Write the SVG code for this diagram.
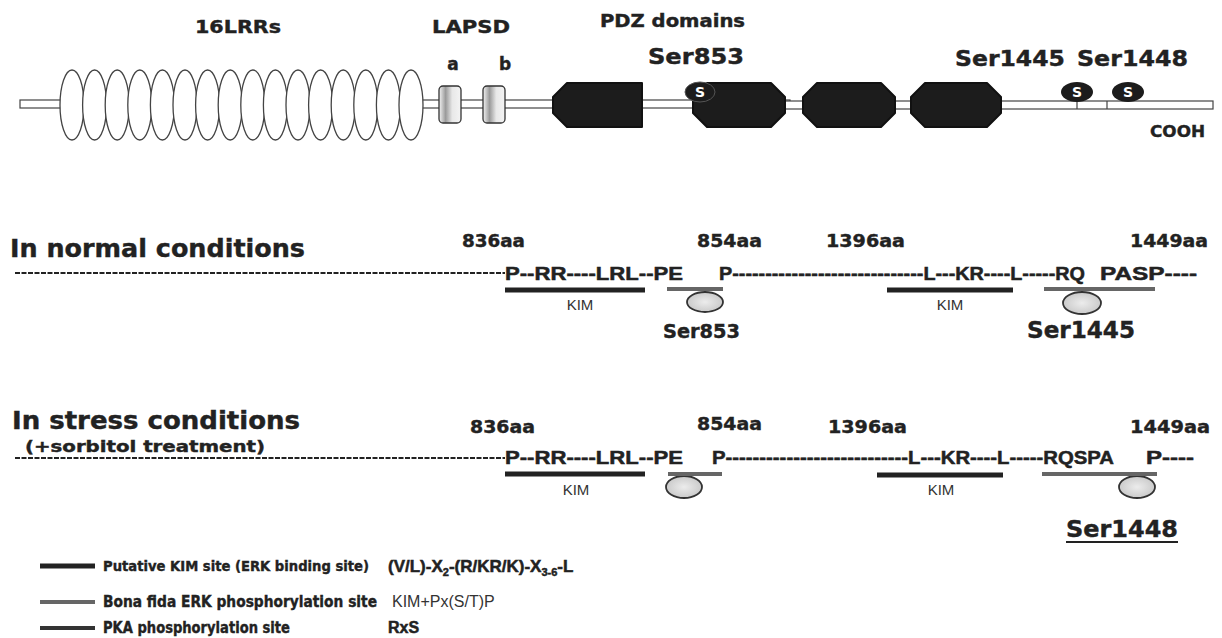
<svg xmlns="http://www.w3.org/2000/svg" width="1222" height="638" viewBox="0 0 1222 638">
<defs>
<linearGradient id="lap" x1="0" x2="1" y1="0" y2="0">
<stop offset="0" stop-color="#f4f4f4"/><stop offset="0.3" stop-color="#9a9a9a"/><stop offset="0.6" stop-color="#e8e8e8"/><stop offset="1" stop-color="#f4f4f4"/>
</linearGradient>
<radialGradient id="oval" cx="0.5" cy="0.5" r="0.6">
<stop offset="0" stop-color="#ececec"/><stop offset="1" stop-color="#c4c4c4"/>
</radialGradient>
<style>
.b{font-family:"DejaVu Sans","Liberation Sans",Arial,sans-serif;font-weight:bold;fill:#222;stroke:#222;stroke-width:0.4}
.a{font-family:"Liberation Sans",Arial,sans-serif;font-weight:bold;fill:#222;stroke:#222;stroke-width:0.5}
.n{font-family:"Liberation Sans",Arial,sans-serif;fill:#333}
.lrr{fill:#fff;stroke:#444;stroke-width:1.3}
.pdz{fill:#1c1c1c;stroke:#111;stroke-linejoin:round;stroke-width:2}
.bar{fill:#fff;stroke:#444;stroke-width:1.2}
.kim{stroke:#222;stroke-width:5}
.erk{stroke:#666;stroke-width:4}
.pka{stroke:#333;stroke-width:4}
.dash{stroke:#222;stroke-width:2;stroke-dasharray:5 1.5}
.ov{fill:url(#oval);stroke:#333;stroke-width:1.8}
.sdot{fill:#1c1c1c}
.st{font-family:"DejaVu Sans",sans-serif;font-weight:bold;fill:#fff;font-size:14px}
</style>
</defs>
<rect width="1222" height="638" fill="#fff"/>

<g id="domain-labels">
<text class="b" x="195" y="33" font-size="18" textLength="86" lengthAdjust="spacingAndGlyphs">16LRRs</text>
<text class="b" x="432" y="33" font-size="18" textLength="78" lengthAdjust="spacingAndGlyphs">LAPSD</text>
<text class="b" x="600" y="27" font-size="17" textLength="145" lengthAdjust="spacingAndGlyphs">PDZ domains</text>
<text class="b" x="453" y="70" font-size="17" text-anchor="middle">a</text>
<text class="b" x="505" y="70" font-size="17" text-anchor="middle">b</text>
<text class="b" x="648" y="64" font-size="22" textLength="96" lengthAdjust="spacingAndGlyphs">Ser853</text>
<text class="b" x="955" y="66" font-size="22" textLength="110" lengthAdjust="spacingAndGlyphs">Ser1445</text>
<text class="b" x="1077" y="66" font-size="22" textLength="111" lengthAdjust="spacingAndGlyphs">Ser1448</text>
<text class="b" x="1150" y="137" font-size="16" textLength="55" lengthAdjust="spacingAndGlyphs">COOH</text>
</g>

<g id="protein-backbone">
<rect class="bar" x="20" y="100" width="45" height="8"/>
<rect class="bar" x="420" y="100" width="370" height="8"/>
<rect class="bar" x="785" y="101" width="428" height="8"/>
<line x1="1107" y1="101" x2="1107" y2="109" stroke="#444" stroke-width="1.2"/>
<line x1="1077" y1="101" x2="1077" y2="109" stroke="#444" stroke-width="1.2"/>
</g>

<g id="lrr-repeats">
<ellipse class="lrr" cx="72" cy="105" rx="12" ry="35"/>
<ellipse class="lrr" cx="94.6" cy="105" rx="12" ry="35"/>
<ellipse class="lrr" cx="117.2" cy="105" rx="12" ry="35"/>
<ellipse class="lrr" cx="139.8" cy="105" rx="12" ry="35"/>
<ellipse class="lrr" cx="162.4" cy="105" rx="12" ry="35"/>
<ellipse class="lrr" cx="185" cy="105" rx="12" ry="35"/>
<ellipse class="lrr" cx="207.6" cy="105" rx="12" ry="35"/>
<ellipse class="lrr" cx="230.2" cy="105" rx="12" ry="35"/>
<ellipse class="lrr" cx="252.8" cy="105" rx="12" ry="35"/>
<ellipse class="lrr" cx="275.4" cy="105" rx="12" ry="35"/>
<ellipse class="lrr" cx="298" cy="105" rx="12" ry="35"/>
<ellipse class="lrr" cx="320.6" cy="105" rx="12" ry="35"/>
<ellipse class="lrr" cx="343.2" cy="105" rx="12" ry="35"/>
<ellipse class="lrr" cx="365.8" cy="105" rx="12" ry="35"/>
<ellipse class="lrr" cx="388.4" cy="105" rx="12" ry="35"/>
<ellipse class="lrr" cx="411" cy="105" rx="12" ry="35"/>
</g>

<g id="lapsd-a"><rect x="439" y="86" width="22" height="37" rx="4" fill="url(#lap)" stroke="#333" stroke-width="1.3"/></g>
<g id="lapsd-b"><rect x="483" y="86" width="22" height="37" rx="4" fill="url(#lap)" stroke="#333" stroke-width="1.3"/></g>

<g id="pdz1"><polygon class="pdz" points="553,97 567,83 642,83 642,127 567,127 553,113"/></g>
<g id="pdz2"><polygon class="pdz" points="693,97 707,83 771,83 785,97 785,113 771,127 707,127 693,113"/></g>
<g id="pdz3"><polygon class="pdz" points="803,97 817,83 881,83 895,97 895,113 881,127 817,127 803,113"/></g>
<g id="pdz4"><polygon class="pdz" points="911,97 925,83 987,83 1001,97 1001,113 987,127 925,127 911,113"/></g>

<g id="ser-sites-top">
<ellipse class="sdot" cx="700" cy="92" rx="15" ry="10" stroke="#555" stroke-width="1"/><text class="st" x="700" y="97" text-anchor="middle">S</text>
<ellipse class="sdot" cx="1077" cy="92" rx="16" ry="10"/><text class="st" x="1077" y="97" text-anchor="middle">S</text>
<ellipse class="sdot" cx="1128" cy="92" rx="16" ry="10"/><text class="st" x="1128" y="97" text-anchor="middle">S</text>
</g>

<g id="normal-row">
<text class="b" x="10" y="257" font-size="25" fill="#333" textLength="295" lengthAdjust="spacingAndGlyphs">In normal conditions</text>
<text class="b" x="462" y="247" font-size="18" textLength="63" lengthAdjust="spacingAndGlyphs">836aa</text>
<text class="b" x="697" y="247" font-size="18" textLength="65" lengthAdjust="spacingAndGlyphs">854aa</text>
<text class="b" x="826" y="247" font-size="18" textLength="79" lengthAdjust="spacingAndGlyphs">1396aa</text>
<text class="b" x="1130" y="247" font-size="18" textLength="78" lengthAdjust="spacingAndGlyphs">1449aa</text>
<line class="dash" x1="15" y1="273" x2="505" y2="273"/>
<text class="a" x="505" y="280" font-size="19" textLength="178" lengthAdjust="spacingAndGlyphs">P--RR----LRL--PE</text>
<text class="a" x="719" y="280" font-size="19" textLength="366" lengthAdjust="spacingAndGlyphs">P-----------------------------L---KR----L-----RQ</text>
<text class="a" x="1100" y="280" font-size="19" textLength="97" lengthAdjust="spacingAndGlyphs">PASP----</text>
<text class="n" x="580" y="310" font-size="15" text-anchor="middle">KIM</text>
<text class="n" x="950" y="310" font-size="15" text-anchor="middle">KIM</text>
<ellipse class="ov" cx="705" cy="302" rx="18" ry="10"/>
<ellipse class="ov" cx="1082" cy="303" rx="19" ry="11"/>
<text class="b" x="663" y="338" font-size="19" textLength="77" lengthAdjust="spacingAndGlyphs">Ser853</text>
<text class="b" x="1027" y="338" font-size="23" textLength="108" lengthAdjust="spacingAndGlyphs">Ser1445</text>
</g>

<g id="stress-row">
<text class="b" x="12" y="429" font-size="24" fill="#333" textLength="288" lengthAdjust="spacingAndGlyphs">In stress conditions</text>
<text class="b" x="25" y="452" font-size="15" textLength="240" lengthAdjust="spacingAndGlyphs">(+sorbitol treatment)</text>
<text class="b" x="470" y="433" font-size="18" textLength="65" lengthAdjust="spacingAndGlyphs">836aa</text>
<text class="b" x="697" y="430" font-size="18" textLength="65" lengthAdjust="spacingAndGlyphs">854aa</text>
<text class="b" x="828" y="433" font-size="18" textLength="79" lengthAdjust="spacingAndGlyphs">1396aa</text>
<text class="b" x="1130" y="433" font-size="18" textLength="80" lengthAdjust="spacingAndGlyphs">1449aa</text>
<line class="dash" x1="15" y1="458" x2="505" y2="458"/>
<text class="a" x="505" y="464" font-size="19" textLength="178" lengthAdjust="spacingAndGlyphs">P--RR----LRL--PE</text>
<text class="a" x="712" y="464" font-size="19" textLength="402" lengthAdjust="spacingAndGlyphs">P---------------------------L---KR----L-----RQSPA</text>
<text class="a" x="1146" y="464" font-size="19" textLength="48" lengthAdjust="spacingAndGlyphs">P----</text>
<text class="n" x="576" y="495" font-size="15" text-anchor="middle">KIM</text>
<text class="n" x="941" y="495" font-size="15" text-anchor="middle">KIM</text>
<ellipse class="ov" cx="684" cy="487" rx="18" ry="11"/>
<ellipse class="ov" cx="1137" cy="487" rx="18" ry="11"/>
<text class="b" x="1066" y="537" font-size="23" textLength="112" lengthAdjust="spacingAndGlyphs">Ser1448</text>
<line x1="1066" y1="542" x2="1178" y2="542" stroke="#222" stroke-width="2"/>
</g>

<g id="connectors">
<line class="kim" x1="505" y1="290" x2="645" y2="290"/>
<line class="erk" x1="667" y1="289" x2="723" y2="289"/>
<line class="kim" x1="887" y1="290" x2="1013" y2="290"/>
<line class="erk" x1="1044" y1="289" x2="1155" y2="289"/>
<line class="kim" x1="505" y1="474" x2="645" y2="474"/>
<line class="erk" x1="668" y1="474" x2="722" y2="474"/>
<line class="kim" x1="877" y1="475" x2="1003" y2="475"/>
<line class="erk" x1="1042" y1="474" x2="1157" y2="474"/>
</g>

<g id="legend">
<line class="kim" x1="40" y1="566" x2="95" y2="566"/>
<text class="b" x="103" y="571" font-size="14" textLength="266" lengthAdjust="spacingAndGlyphs">Putative KIM site (ERK binding site)</text>
<text class="a" x="388" y="572" font-size="17">(V/L)-X<tspan font-size="11" dy="4">2</tspan><tspan dy="-4">-(R/KR/K)-X</tspan><tspan font-size="11" dy="4">3-6</tspan><tspan dy="-4">-L</tspan></text>
<line class="erk" x1="40" y1="602" x2="95" y2="602"/>
<text class="b" x="103" y="607" font-size="15" textLength="274" lengthAdjust="spacingAndGlyphs">Bona fida ERK phosphorylation site</text>
<text class="n" x="392" y="607" font-size="16" fill="#666">KIM+Px(S/T)P</text>
<line class="pka" x1="40" y1="628" x2="95" y2="628"/>
<text class="b" x="103" y="633" font-size="15" textLength="187" lengthAdjust="spacingAndGlyphs">PKA phosphorylation site</text>
<text class="a" x="388" y="633" font-size="16">RxS</text>
</g>
</svg>
